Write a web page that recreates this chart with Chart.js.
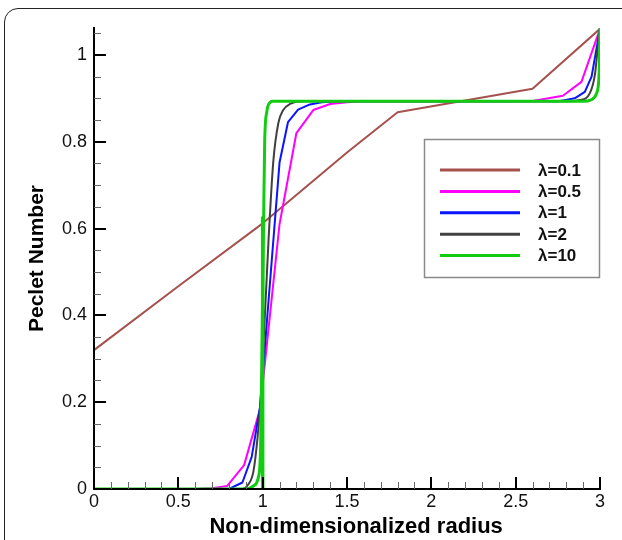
<!DOCTYPE html>
<html><head><meta charset="utf-8">
<script src="https://cdn.jsdelivr.net/npm/chart.js@4.4.0/dist/chart.umd.min.js"></script>
<style>
html,body{margin:0;padding:0;background:#fff;overflow:hidden;}
#wrap{position:relative;width:622px;height:540px;overflow:hidden;}
#frame{position:absolute;left:4px;top:8px;width:720px;height:720px;border:1.5px solid #222;border-radius:14px;box-sizing:border-box;}
canvas{position:absolute;left:0;top:0;}
</style></head><body>
<div id="wrap"><div id="frame"></div><canvas id="c" width="622" height="540"></canvas></div>
<script>
// ---- data ----
const seriesLabels = ['λ=0.1','λ=0.5','λ=1','λ=2','λ=10'];
const seriesColors = ['#a5514d','#ff00ff','#0a14ff','#404040','#12cc12'];

const lam01X = [0, 0.5, 1.0, 1.5, 1.8, 2.2, 2.6, 3.0];
const lam01Y = [0.32, 0.467, 0.612, 0.775, 0.868, 0.895, 0.922, 1.06];

const lam05X = [0, 0.6, 0.7, 0.79, 0.89, 0.985, 1.1, 1.2, 1.3, 1.4, 1.5, 1.6, 2.5, 2.6, 2.78, 2.89, 3.0];
const lam05Y = [0, 0, 0.002, 0.007, 0.055, 0.185, 0.61, 0.82, 0.873, 0.887, 0.891, 0.893, 0.893, 0.894, 0.906, 0.938, 1.06];

const lam1X = [0, 0.8, 0.88, 0.935, 0.985, 1.1, 1.15, 1.21, 1.28, 1.35, 1.45, 2.75, 2.85, 2.91, 2.95, 3.0];
const lam1Y = [0, 0, 0.015, 0.074, 0.19, 0.752, 0.845, 0.874, 0.886, 0.891, 0.893, 0.893, 0.9, 0.915, 0.95, 1.06];

const lam2X = [0, 0.88, 0.91, 0.945, 0.97, 0.99, 1.035, 1.063, 1.093, 1.122, 1.162, 1.25, 2.8, 2.88, 2.94, 2.97, 2.99, 3.0];
const lam2Y = [0, 0, 0.008, 0.04, 0.12, 0.22, 0.575, 0.754, 0.843, 0.873, 0.887, 0.893, 0.893, 0.896, 0.912, 0.955, 1.03, 1.06];

const lam10X = [0, 0.9, 0.945, 0.975, 0.988, 0.995, 1.005, 1.012, 1.025, 1.04, 1.06, 2.9, 2.95, 2.98, 2.995, 3.0];
const lam10Y = [0, 0, 0.007, 0.028, 0.1, 0.3, 0.6, 0.8, 0.87, 0.889, 0.893, 0.893, 0.897, 0.912, 0.96, 1.06];

const lam10StubX = [1.0, 1.0];
const lam10StubY = [0, 0.625];

const xTickValues = [0, 0.5, 1, 1.5, 2, 2.5, 3];
const yTickValues = [0, 0.2, 0.4, 0.6, 0.8, 1];
const xMinorStep = 0.1;
const yMinorStep = 0.05;

// ---- build ----
const zip = (xs, ys) => xs.map((x, i) => ({x, y: ys[i]}));
const FONT = "'Liberation Sans', Arial, Helvetica, sans-serif";

function ds(label, xs, ys, color, width, order, smooth) {
  return {
    label, data: zip(xs, ys), borderColor: color, backgroundColor: color,
    borderWidth: width, pointRadius: 0, showLine: true, fill: false,
    order, tension: 0, cubicInterpolationMode: smooth ? 'monotone' : 'default',
    borderJoinStyle: 'round', borderCapStyle: 'round'
  };
}

const datasets = [
  ds(seriesLabels[0], lam01X, lam01Y, seriesColors[0], 2, 6, false),
  ds(seriesLabels[1], lam05X, lam05Y, seriesColors[1], 2, 5, false),
  ds(seriesLabels[2], lam1X, lam1Y, seriesColors[2], 2, 4, false),
  ds(seriesLabels[3], lam2X, lam2Y, seriesColors[3], 2, 3, true),
  ds(seriesLabels[4], lam10X, lam10Y, seriesColors[4], 3, 1, true),
  ds('', lam10StubX, lam10StubY, seriesColors[4], 3.5, 2, false)
];

const tickPlugin = {
  id: 'inwardTicks',
  afterDraw(chart) {
    const {ctx, scales: {x, y}} = chart;
    const yb = y.getPixelForValue(y.min);
    const xl = x.getPixelForValue(x.min);
    ctx.save();
    const nx = Math.round((x.max - x.min) / xMinorStep);
    for (let i = 0; i <= nx; i++) {
      const v = x.min + i * xMinorStep;
      const major = xTickValues.some(t => Math.abs(t - v) < 1e-6);
      const px = Math.round(x.getPixelForValue(v)) + (major ? 0 : 0.5);
      ctx.beginPath();
      ctx.lineWidth = major ? 2 : 1;
      ctx.strokeStyle = major ? '#000' : '#666';
      ctx.moveTo(px, yb);
      ctx.lineTo(px, yb - (major ? 12 : 7));
      ctx.stroke();
    }
    const ny = Math.floor((y.max - y.min) / yMinorStep + 1e-6);
    for (let i = 0; i <= ny; i++) {
      const v = y.min + i * yMinorStep;
      const major = yTickValues.some(t => Math.abs(t - v) < 1e-6);
      const py = Math.round(y.getPixelForValue(v)) + (major ? 0 : 0.5);
      ctx.beginPath();
      ctx.lineWidth = major ? 2 : 1;
      ctx.strokeStyle = major ? '#000' : '#666';
      ctx.moveTo(xl, py);
      ctx.lineTo(xl + (major ? 12 : 7), py);
      ctx.stroke();
    }
    ctx.restore();
  }
};

const legendPlugin = {
  id: 'boxLegend',
  afterDraw(chart) {
    const ctx = chart.ctx;
    const items = chart.data.datasets.filter(d => d.label);
    const bx = 424.5, by = 139.5, bw = 175, bh = 138;
    ctx.save();
    ctx.fillStyle = '#fff';
    ctx.fillRect(bx, by, bw, bh);
    ctx.strokeStyle = '#8a8a8a';
    ctx.lineWidth = 1.5;
    ctx.strokeRect(bx, by, bw, bh);
    const rowY0 = 170, rowGap = 21.4;
    ctx.font = "bold 17px " + FONT;
    ctx.textBaseline = 'middle';
    ctx.textAlign = 'left';
    items.forEach((d, i) => {
      const yy = rowY0 + i * rowGap;
      ctx.beginPath();
      ctx.strokeStyle = d.borderColor;
      ctx.lineWidth = 3;
      ctx.moveTo(440, yy);
      ctx.lineTo(520, yy);
      ctx.stroke();
      ctx.fillStyle = '#111';
      ctx.fillText(d.label, 538, yy + 1);
    });
    ctx.restore();
  }
};

const fmt = v => String(parseFloat(Number(v).toFixed(2)));

new Chart(document.getElementById('c'), {
  type: 'scatter',
  data: {datasets},
  plugins: [tickPlugin, legendPlugin],
  options: {
    responsive: false, animation: false, devicePixelRatio: 1,
    layout: {padding: {top: 28, right: 22, left: 0, bottom: 0}},
    plugins: {legend: {display: false}, tooltip: {enabled: false}},
    elements: {line: {borderWidth: 2}},
    scales: {
      x: {
        type: 'linear', min: 0, max: 3,
        afterBuildTicks: s => { s.ticks = xTickValues.map(v => ({value: v})); },
        ticks: {font: {family: FONT, size: 18}, color: '#111', padding: 2, maxRotation: 0, autoSkip: false, callback: fmt},
        grid: {drawOnChartArea: false, drawTicks: false},
        border: {display: true, color: '#000', width: 2, z: 1},
        title: {display: true, text: '   Non-dimensionalized radius', color: '#000',
                font: {family: FONT, size: 22, weight: 'bold'}, padding: {top: 0, bottom: 0}},
        afterFit: s => { s.height = 51; }
      },
      y: {
        type: 'linear', min: 0, max: 1.062,
        afterBuildTicks: s => { s.ticks = yTickValues.map(v => ({value: v})); },
        ticks: {font: {family: FONT, size: 18}, color: '#111', padding: 7, autoSkip: false, callback: fmt},
        grid: {drawOnChartArea: false, drawTicks: false},
        border: {display: true, color: '#000', width: 2, z: 1},
        title: {display: true, text: 'Peclet Number', color: '#000',
                font: {family: FONT, size: 21, weight: 'bold'}, padding: {top: 24.5, bottom: 0}},
        afterFit: s => { s.width = 94; }
      }
    }
  }
});
</script>
</body></html>
